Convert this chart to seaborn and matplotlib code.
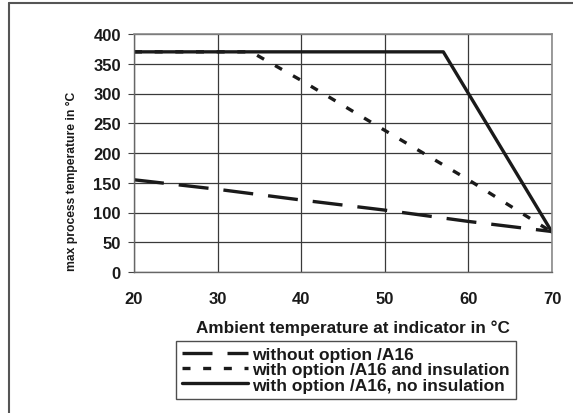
import matplotlib
matplotlib.use("Agg")
import matplotlib.pyplot as plt
import seaborn as sns
import pandas as pd
from matplotlib.lines import Line2D

# ---- data ----
series_names = ["without option /A16",
                "with option /A16 and insulation",
                "with option /A16, no insulation"]
x_without = [20, 30, 40, 50, 60, 70]
y_without = [155, 139, 121, 104, 85, 68]
x_insul = [20, 34, 40, 50, 60, 70]
y_insul = [370, 370, 322, 238, 155, 67]
x_noinsul = [20, 57, 70]
y_noinsul = [370, 370, 67]
x_ticks = [20, 30, 40, 50, 60, 70]
y_ticks = [0, 50, 100, 150, 200, 250, 300, 350, 400]

sns.set_theme(style="white")
plt.rcParams['font.family'] = ['Liberation Sans', 'DejaVu Sans']

frames = []
for name, xs, ys in zip(series_names,
                        [x_without, x_insul, x_noinsul],
                        [y_without, y_insul, y_noinsul]):
    frames.append(pd.DataFrame({"x": xs, "y": ys, "series": name}))
df = pd.concat(frames, ignore_index=True)

fig = plt.figure(figsize=(5.73, 4.14), dpi=100)
ax = fig.add_axes([134/573, 1-273/414, (552-134)/573, (273-35)/414])

dash_map = {series_names[0]: (9, 4.5),
            series_names[1]: (2.4, 3.8),
            series_names[2]: ""}
sns.lineplot(data=df, x="x", y="y", hue="series", style="series",
             dashes=dash_map, palette=["#1a1a1a"]*3, linewidth=2.4,
             sort=False, estimator=None, legend=False, ax=ax)

ax.set_xlim(20, 70)
ax.set_ylim(0, 400)
ax.set_xticks(x_ticks)
ax.set_yticks(y_ticks)
ax.grid(True, color="#3a3a3a", linewidth=0.9)
ax.set_axisbelow(True)
for s in ["top", "right"]:
    ax.spines[s].set_color("#8a8a8a")
    ax.spines[s].set_linewidth(1.2)
for s in ["left", "bottom"]:
    ax.spines[s].set_color("#666666")
    ax.spines[s].set_linewidth(1.0)
ax.tick_params(axis="y", which="both", left=True, length=4, width=0.8,
               color="#444444", labelsize=12, pad=5.5)
ax.tick_params(axis="x", bottom=False, labelsize=12, pad=7.5)
for lab in ax.get_xticklabels() + ax.get_yticklabels():
    lab.set_fontweight("bold")
    lab.set_color("#1a1a1a")

ax.set_xlabel("Ambient temperature at indicator in °C", fontsize=12.3,
              fontweight="bold", color="#1a1a1a")
ax.xaxis.set_label_coords(0.523, -0.2)
ax.set_ylabel("max process temperature in °C", fontsize=8.7,
              fontweight="bold", color="#1a1a1a")
ax.yaxis.set_label_coords(-0.134, 0.384)

handles = [Line2D([], [], color="#1a1a1a", lw=2.4, dashes=(9, 4.5)),
           Line2D([], [], color="#1a1a1a", lw=2.4, dashes=(2.4, 3.8)),
           Line2D([], [], color="#1a1a1a", lw=2.4)]
leg = fig.legend(handles, series_names, loc="upper left",
                 bbox_to_anchor=(176/573, 1-342/414),
                 frameon=True, fancybox=False, edgecolor="#222222",
                 handlelength=3.8, handletextpad=0.25, labelspacing=0.0,
                 borderpad=0.35, borderaxespad=0,
                 prop={"weight": "bold", "size": 12.5})
leg.get_frame().set_linewidth(1.0)
for t in leg.get_texts():
    t.set_color("#1a1a1a")

# outer frame
fig.add_artist(Line2D([9/573, 9/573], [0, 1-4/414], color="#555555", lw=1.5,
                      transform=fig.transFigure))
fig.add_artist(Line2D([9/573, 1], [1-4/414, 1-4/414], color="#555555", lw=1.5,
                      transform=fig.transFigure))

fig.savefig("out.png", dpi=100)
